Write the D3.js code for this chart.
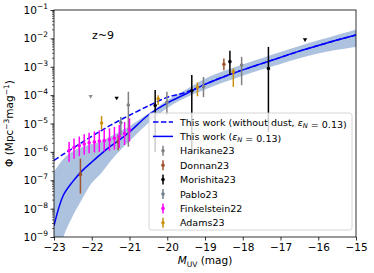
<!DOCTYPE html>
<html><head><meta charset="utf-8">
<script src="https://cdn.jsdelivr.net/npm/d3@7"></script>
<style>body{margin:0;background:#fff} svg{font-family:"DejaVu Sans",sans-serif}</style>
</head><body><svg id="c" width="374" height="273"></svg>
<script>
// ---- data (log10 of Phi) ----
const modelM      = [-23,-22.75,-22.5,-22.25,-22,-21.75,-21.5,-21.25,-21,-20.5,-20,-19.5,-19,-18.5,-18,-17.5,-17,-16.5,-16,-15.5,-15];
const modelLog    = [-8.6,-7.52,-7.04,-6.66,-6.36,-6.07,-5.8,-5.56,-5.3,-4.7,-4.28,-3.95,-3.62,-3.35,-3.11,-2.89,-2.67,-2.45,-2.25,-2.06,-1.88];
const noDustLog   = [-6.3,-6.08,-5.87,-5.66,-5.45,-5.25,-5.06,-4.88,-4.71,-4.38,-4.08,-3.9,-3.62,-3.35,-3.11,-2.89,-2.67,-2.45,-2.25,-2.06,-1.88];
const bandUpLog   = [-6.7,-6.25,-5.98,-5.83,-5.72,-5.63,-5.45,-5.28,-5.1,-4.65,-4.18,-3.8,-3.42,-3.15,-2.92,-2.7,-2.48,-2.27,-2.07,-1.88,-1.7];
const bandLoLog   = [-10.5,-9.0,-8.25,-7.65,-7.1,-6.75,-6.32,-5.95,-5.62,-4.98,-4.45,-4.08,-3.8,-3.55,-3.32,-3.1,-2.9,-2.7,-2.53,-2.4,-2.3];

// errorbar points: [M, log, logUpper, logLower]
const harikane23 = [[-21.03,-4.35,-3.88,-5.82],[-20.01,-4.25,-3.88,-4.71],[-19.04,-3.7,-3.36,-4.07],[-18.03,-2.94,-2.65,-3.65]];
const harikane23Lim = [[-22.03,-4.06]];
const donnan23 = [[-22.3,-6.8,-6.24,-7.47],[-21.3,-5.65,-5.4,-5.94],[-18.5,-2.91,-2.71,-3.12]];
const morishita23 = [[-20.32,-4.37,-3.82,-6.0],[-19.35,-3.85,-3.29,-6.0],[-18.34,-2.82,-2.44,-3.29],[-17.32,-3.06,-2.3,-5.3]];
const morishita23Lim = [[-21.34,-4.12],[-16.35,-2.06]];
const pablo23 = [[-21.23,-4.97,-4.77,-5.41]];
const finkM   = [-22.6,-22.47,-22.33,-22.2,-22.07,-21.93,-21.8,-21.67,-21.53,-21.4,-21.27,-21.13,-21.0];
const finkLog = [-5.95,-5.85,-5.78,-5.72,-5.68,-5.65,-5.62,-5.6,-5.57,-5.52,-5.45,-5.35,-5.22];
const finkUp  = [-5.65,-5.53,-5.46,-5.38,-5.33,-5.28,-5.24,-5.2,-5.17,-5.12,-5.05,-4.95,-4.82];
const finkLo  = [-6.35,-6.24,-6.15,-6.1,-6.05,-6.02,-6.0,-5.98,-5.96,-5.92,-5.86,-5.76,-5.64];
const adams23 = [[-21.74,-4.98,-4.74,-5.21],[-20.24,-4.13,-4.0,-4.35],[-19.2,-3.72,-3.55,-4.04],[-18.25,-3.18,-3.06,-3.71]];

const xTicks = [-23,-22,-21,-20,-19,-18,-17,-16,-15];
const yTickExps = [-1,-2,-3,-4,-5,-6,-7,-8,-9];

const colors = {harikane:"#808080", donnan:"#a0522d", morishita:"#000000", pablo:"#708090", fink:"#ff00ff", adams:"#c8900e"};

// ---- chart ----
const P = v => Math.pow(10, v);
const svg = d3.select("#c");
const L=54, R=356, T=10, B=237;
const x = d3.scaleLinear().domain([-23,-15]).range([L,R]);
const y = d3.scaleLog().domain([1e-9,1e-1]).range([B,T]);

svg.append("defs").append("clipPath").attr("id","clip")
  .append("rect").attr("x",L).attr("y",T).attr("width",R-L).attr("height",B-T);
const g = svg.append("g").attr("clip-path","url(#clip)");

const curve = d3.curveCatmullRom.alpha(0.5);
const band = modelM.map((m,i)=>({m, lo:bandLoLog[i], hi:bandUpLog[i]}));
g.append("path").datum(band)
  .attr("d", d3.area().curve(curve).x(d=>x(d.m)).y0(d=>y(P(d.lo))).y1(d=>y(P(d.hi))))
  .attr("fill","#adc2de");

const lineGen = d3.line().curve(curve).x(d=>x(d[0])).y(d=>y(P(d[1])));
g.append("path").datum(modelM.map((m,i)=>[m,noDustLog[i]])).attr("d",lineGen)
  .attr("fill","none").attr("stroke","#0000ff").attr("stroke-width",1.5).attr("stroke-dasharray","5.5,2.4");
g.append("path").datum(modelM.map((m,i)=>[m,modelLog[i]])).attr("d",lineGen)
  .attr("fill","none").attr("stroke","#0000ff").attr("stroke-width",1.5);

function errbars(data, color){
  const s = g.append("g");
  data.forEach(d=>{
    s.append("line").attr("x1",x(d[0])).attr("x2",x(d[0])).attr("y1",y(P(d[2]))).attr("y2",y(P(d[3])))
      .attr("stroke",color).attr("stroke-width",1.5);
    s.append("circle").attr("cx",x(d[0])).attr("cy",y(P(d[1]))).attr("r",1.8).attr("fill",color);
  });
}
function limits(data, color){
  data.forEach(d=>{
    const cx=x(d[0]), cy=y(P(d[1]));
    g.append("path").attr("d",`M${cx-2.2},${cy-1.8}L${cx+2.2},${cy-1.8}L${cx},${cy+1.8}Z`).attr("fill",color);
  });
}
errbars(harikane23, colors.harikane);
limits(harikane23Lim, "#909090");
errbars(donnan23, colors.donnan);
errbars(morishita23, colors.morishita);
limits(morishita23Lim, colors.morishita);
errbars(pablo23, colors.pablo);
errbars(finkM.map((m,i)=>[m,finkLog[i],finkUp[i],finkLo[i]]), colors.fink);
errbars(adams23, colors.adams);

// axes
const gx = svg.append("g").attr("transform",`translate(0,${B})`)
  .call(d3.axisBottom(x).tickValues(xTicks).tickSize(3.5).tickPadding(3.5).tickFormat(d=>"\u2212"+Math.abs(d)));
gx.select(".domain").remove();
gx.selectAll("text").attr("font-size","10.5px").attr("font-family","DejaVu Sans").attr("fill","#000");
gx.selectAll("line").attr("stroke","#000").attr("stroke-width",0.8);

const gy = svg.append("g").attr("transform",`translate(${L},0)`)
  .call(d3.axisLeft(y).tickValues(yTickExps.map(P)).tickSize(3.5).tickFormat(""));
gy.select(".domain").remove();
gy.selectAll("line").attr("stroke","#000").attr("stroke-width",0.8);
// minor ticks
const minors=[];
for(let k=-9;k<=-2;k++) for(let j=2;j<=9;j++) minors.push(j*P(k));
gy.selectAll(".minor").data(minors).enter().append("line")
  .attr("x1",0).attr("x2",-2).attr("y1",d=>y(d)).attr("y2",d=>y(d)).attr("stroke","#000").attr("stroke-width",0.6);
yTickExps.forEach(e=>{
  const t = svg.append("text").attr("x",L-6).attr("y",y(P(e))+4).attr("text-anchor","end")
    .attr("font-size","10.5px").attr("fill","#000");
  t.append("tspan").text("10");
  t.append("tspan").attr("dy",-5).attr("font-size","7.5px").text("\u2212"+Math.abs(e));
});

svg.append("rect").attr("x",L).attr("y",T).attr("width",R-L).attr("height",B-T)
  .attr("fill","none").attr("stroke","#000").attr("stroke-width",0.8);

// axis labels
const xl = svg.append("text").attr("x",205).attr("y",264).attr("text-anchor","middle").attr("font-size","10.5px");
xl.append("tspan").attr("font-style","italic").text("M");
xl.append("tspan").attr("dy",2.5).attr("font-size","7.5px").text("UV");
xl.append("tspan").attr("dy",-2.5).text(" (mag)");

const yl = svg.append("text").attr("transform",`translate(13,123.5) rotate(-90)`).attr("text-anchor","middle").attr("font-size","10.5px");
yl.append("tspan").text("\u03a6 (Mpc");
yl.append("tspan").attr("dy",-4).attr("font-size","7.5px").text("\u22123");
yl.append("tspan").attr("dy",4).text("mag");
yl.append("tspan").attr("dy",-4).attr("font-size","7.5px").text("\u22121");
yl.append("tspan").attr("dy",4).text(")");

svg.append("text").attr("x",92).attr("y",39).attr("font-size","11px").text("z~9");

// legend
const lg = svg.append("g");
lg.append("rect").attr("x",149).attr("y",113).attr("width",203).attr("height",117).attr("rx",2.5)
  .attr("fill","#fff").attr("fill-opacity",0.8).attr("stroke","#cccccc").attr("stroke-width",0.8);
const entries = [
  {type:"dash", label:["This work (without dust, ", "eps", " = 0.13)"]},
  {type:"solid", label:["This work (", "eps", " = 0.13)"]},
  {type:"err", color:colors.harikane, label:["Harikane23"]},
  {type:"err", color:colors.donnan, label:["Donnan23"]},
  {type:"err", color:colors.morishita, label:["Morishita23"]},
  {type:"err", color:colors.pablo, label:["Pablo23"]},
  {type:"err", color:colors.fink, label:["Finkelstein22"]},
  {type:"err", color:colors.adams, label:["Adams23"]}
];
entries.forEach((e,i)=>{
  const yy = 122 + i*14.4;
  if(e.type==="dash"||e.type==="solid"){
    const ln = lg.append("line").attr("x1",153).attr("x2",173).attr("y1",yy).attr("y2",yy)
      .attr("stroke","#0000ff").attr("stroke-width",1.5);
    if(e.type==="dash") ln.attr("stroke-dasharray","5.5,2.4");
  } else {
    lg.append("line").attr("x1",163).attr("x2",163).attr("y1",yy-5).attr("y2",yy+5).attr("stroke",e.color).attr("stroke-width",1.5);
    lg.append("circle").attr("cx",163).attr("cy",yy).attr("r",1.8).attr("fill",e.color);
  }
  const t = lg.append("text").attr("x",180).attr("y",yy+3.5).attr("font-size","9.5px").attr("fill","#000");
  e.label.forEach(p=>{
    if(p==="eps"){
      t.append("tspan").attr("font-style","italic").text("\u03b5");
      t.append("tspan").attr("font-style","italic").attr("font-size","6.7px").attr("dy",2).text("N");
      t.append("tspan").attr("dy",-2).text("");
    } else t.append("tspan").text(p);
  });
});
</script></body></html>
